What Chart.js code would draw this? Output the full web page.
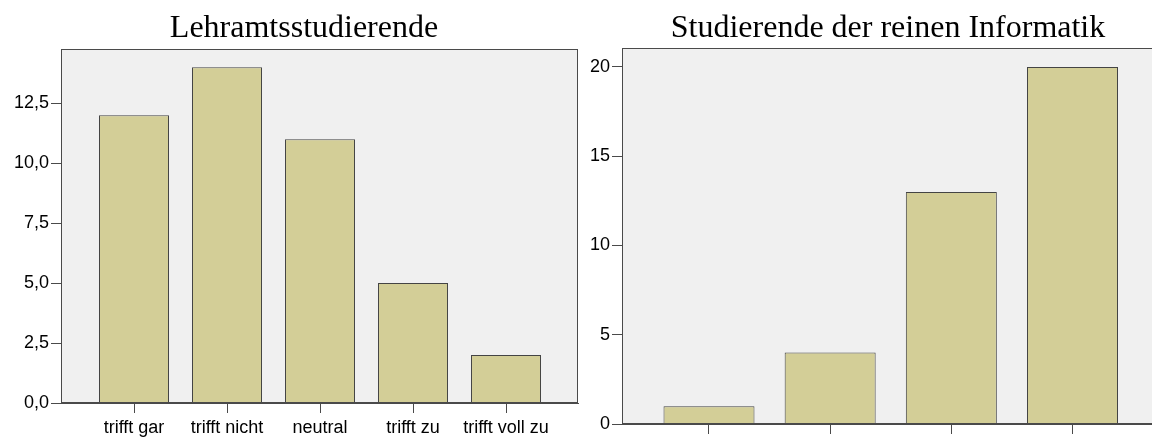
<!DOCTYPE html>
<html>
<head>
<meta charset="utf-8">
<script src="https://cdn.jsdelivr.net/npm/chart.js@4.4.0/dist/chart.umd.min.js"></script>
<style>
  html, body { margin: 0; padding: 0; background: #ffffff; overflow: hidden; width: 1152px; height: 438px; }
  canvas { position: absolute; top: 0; }
  #left { left: 0; }
  #right { left: 580px; }
  .title {
    position: absolute; top: 10px; height: 34px;
    font-family: "Liberation Serif", "Times New Roman", serif;
    font-size: 32px; line-height: 32px; color: #000; text-align: center; white-space: nowrap;
  }
  #leftTitle { left: 0; width: 608px; }
  #rightTitle { left: 580px; width: 616px; }
</style>
</head>
<body>
<canvas id="left" width="607" height="438"></canvas>
<canvas id="right" width="615" height="438"></canvas>
<div class="title" id="leftTitle"></div>
<div class="title" id="rightTitle"></div>
<script>
// ---- data ----
const leftTitle = 'Lehramtsstudierende';
const leftCategories = ['trifft gar', 'trifft nicht', 'neutral', 'trifft zu', 'trifft voll zu'];
const leftValues = [12, 14, 11, 5, 2];
const leftYTicks = [0, 2.5, 5, 7.5, 10, 12.5];
const leftYTickLabels = ['0,0', '2,5', '5,0', '7,5', '10,0', '12,5'];

const rightTitle = 'Studierende der reinen Informatik';
const rightCategories = ['', '', '', ''];
const rightValues = [1, 4, 13, 20];
const rightYTicks = [0, 5, 10, 15, 20];
const rightYTickLabels = ['0', '5', '10', '15', '20'];

// ---- styling ----
const BAR_FILL = '#d3ce97';
const BAR_EDGE = '#444444';
const FRAME = '#4a4a4a';
const PLOT_BG = '#f0f0f0';
const TICK_FONT = { family: '"Liberation Sans", Arial, sans-serif', size: 18 };

document.getElementById('leftTitle').textContent = leftTitle;
document.getElementById('rightTitle').textContent = rightTitle;

const framePlugin = {
  id: 'frame',
  beforeDatasetsDraw(chart) {
    const a = chart.chartArea, ctx = chart.ctx;
    ctx.save();
    ctx.fillStyle = PLOT_BG;
    ctx.fillRect(a.left, a.top, a.right - a.left, a.bottom - a.top);
    ctx.restore();
  },
  afterDatasetsDraw(chart) {
    const a = chart.chartArea, ctx = chart.ctx;
    ctx.save();
    ctx.strokeStyle = FRAME;
    ctx.lineWidth = 1;
    ctx.strokeRect(Math.round(a.left) + 0.5, Math.round(a.top) + 0.5,
                   Math.round(a.right - a.left) - 1, Math.round(a.bottom - a.top) - 1);
    ctx.restore();
  }
};

function makeChart(id, cfg) {
  const pts = cfg.values.map((v, i) => ({ x: i + 1, y: v }));
  const catTicks = cfg.categories.map((c, i) => i + 1);
  return new Chart(document.getElementById(id), {
    type: 'bar',
    data: {
      datasets: [{
        data: pts,
        backgroundColor: BAR_FILL,
        borderColor: BAR_EDGE,
        borderWidth: 1,
        borderSkipped: 'start',
        categoryPercentage: 1,
        barPercentage: cfg.barPct
      }]
    },
    options: {
      responsive: false,
      animation: false,
      devicePixelRatio: 1,
      layout: { padding: { left: 0, right: cfg.padRight, top: cfg.padTop, bottom: 0 } },
      plugins: {
        legend: { display: false },
        tooltip: { enabled: false },
        title: { display: false }
      },
      scales: {
        x: {
          type: 'linear',
          offset: false,
          min: cfg.xMin,
          max: cfg.xMax,
          afterBuildTicks(scale) { scale.ticks = catTicks.map(v => ({ value: v })); },
          afterFit(scale) { scale.height = cfg.xAxisHeight; },
          ticks: {
            color: '#000000',
            font: TICK_FONT,
            padding: 4,
            maxRotation: 0,
            autoSkip: false,
            callback: (v) => cfg.categories[Math.round(v) - 1] ?? ''
          },
          grid: { offset: false, drawOnChartArea: false, drawTicks: true, tickLength: 10, color: FRAME },
          border: { display: true, color: FRAME }
        },
        y: {
          type: 'linear',
          min: 0,
          max: cfg.yMax,
          afterBuildTicks(scale) { scale.ticks = cfg.yTicks.map(v => ({ value: v })); },
          afterFit(scale) { scale.width = cfg.yAxisWidth; },
          ticks: {
            color: '#000000',
            font: TICK_FONT,
            padding: 2,
            callback: (v) => cfg.yLabels[cfg.yTicks.indexOf(v)]
          },
          grid: { drawOnChartArea: false, drawTicks: true, tickLength: 10, color: FRAME },
          border: { display: true, color: FRAME }
        }
      }
    },
    plugins: [framePlugin]
  });
}

makeChart('left', {
  categories: leftCategories, values: leftValues,
  yTicks: leftYTicks, yLabels: leftYTickLabels, yMax: 14.76,
  xMin: 0.215, xMax: 5.774, barPct: 0.7527,
  padRight: 29, padTop: 49, yAxisWidth: 61, xAxisHeight: 35
});

makeChart('right', {
  categories: rightCategories, values: rightValues,
  yTicks: rightYTicks, yLabels: rightYTickLabels, yMax: 21.06,
  xMin: 0.282, xMax: 4.718, barPct: 0.751,
  padRight: 35.5, padTop: 48, yAxisWidth: 42, xAxisHeight: 14
});
</script>
</body>
</html>
